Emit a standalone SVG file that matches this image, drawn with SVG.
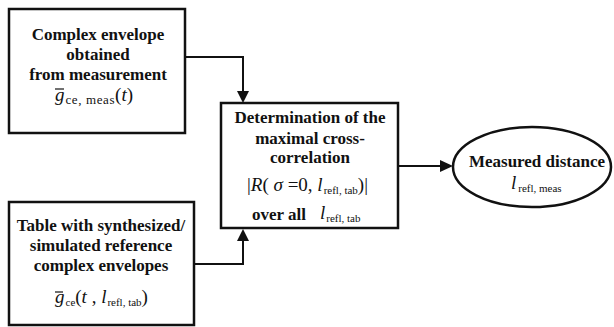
<svg xmlns="http://www.w3.org/2000/svg" width="614" height="327" viewBox="0 0 614 327">
<defs>
<style>
.box{fill:#fff;stroke:#111;stroke-width:2.5}
.conn{fill:none;stroke:#111;stroke-width:2}
text{fill:#111}
.t{font-weight:bold;font-size:17px;text-anchor:middle}
.m{font-size:19px}
.i{font-style:italic}
.s{font-size:11px}
.bar{stroke:#111;stroke-width:1.2}
</style>
</defs>
<g id="connectors">
<path class="conn" d="M185,57 H243 V92"/>
<path d="M237,91 L249,91 L243,103 z" fill="#111"/>
<path class="conn" d="M194,264 H243 V240"/>
<path d="M237,241 L249,241 L243,229 z" fill="#111"/>
<path class="conn" d="M398,166 H441"/>
<path d="M440,160 L453,166 L440,172 z" fill="#111"/>
</g>
<g id="node-measurement" font-family="Liberation Serif, Times New Roman, serif">
<rect class="box" x="9" y="9" width="176" height="124"/>
<text class="t" x="98" y="40">Complex envelope</text>
<text class="t" x="98" y="60">obtained</text>
<text class="t" x="98" y="80">from measurement</text>
<line class="bar" x1="55" y1="89" x2="64" y2="89"/>
<text class="m" x="55" y="101" font-size="20"><tspan class="i">g</tspan><tspan dy="3" dx="1" font-size="13" letter-spacing="0.6">ce, meas</tspan><tspan dy="-3">(</tspan><tspan class="i">t</tspan>)</text>
</g>
<g id="node-table" font-family="Liberation Serif, Times New Roman, serif">
<rect class="box" x="9" y="202" width="185" height="123"/>
<text class="t" x="101" y="231">Table with synthesized/</text>
<text class="t" x="101" y="251">simulated reference</text>
<text class="t" x="101" y="271">complex envelopes</text>
<line class="bar" x1="55" y1="292" x2="63" y2="292"/>
<text class="m" x="55" y="303"><tspan class="i">g</tspan><tspan class="s" dy="3" dx="1">ce</tspan><tspan dy="-3">(</tspan><tspan class="i">t</tspan> , <tspan class="i">l</tspan><tspan class="s" dy="3" dx="1">refl, tab</tspan><tspan dy="-3">)</tspan></text>
</g>
<g id="node-correlation" font-family="Liberation Serif, Times New Roman, serif">
<rect class="box" x="221" y="103" width="177" height="125"/>
<text class="t" x="310" y="123">Determination of the</text>
<text class="t" x="310" y="144">maximal cross-</text>
<text class="t" x="310" y="163">correlation</text>
<text class="m" x="247" y="191">|<tspan class="i">R</tspan>( <tspan class="i">σ</tspan> =0, <tspan class="i">l</tspan><tspan class="s" dy="3" dx="1">refl, tab</tspan><tspan dy="-3">)|</tspan></text>
<text class="t" x="252" y="220" style="text-anchor:start">over all</text>
<text class="m" x="320" y="219"><tspan class="i">l</tspan><tspan class="s" dy="3" dx="1">refl, tab</tspan></text>
</g>
<g id="node-distance" font-family="Liberation Serif, Times New Roman, serif">
<ellipse class="box" cx="532" cy="167" rx="79" ry="40"/>
<text class="t" x="537" y="167">Measured distance</text>
<text class="m" x="511" y="189"><tspan class="i">l</tspan><tspan class="s" dy="3" dx="2">refl, meas</tspan></text>
</g>
</svg>
